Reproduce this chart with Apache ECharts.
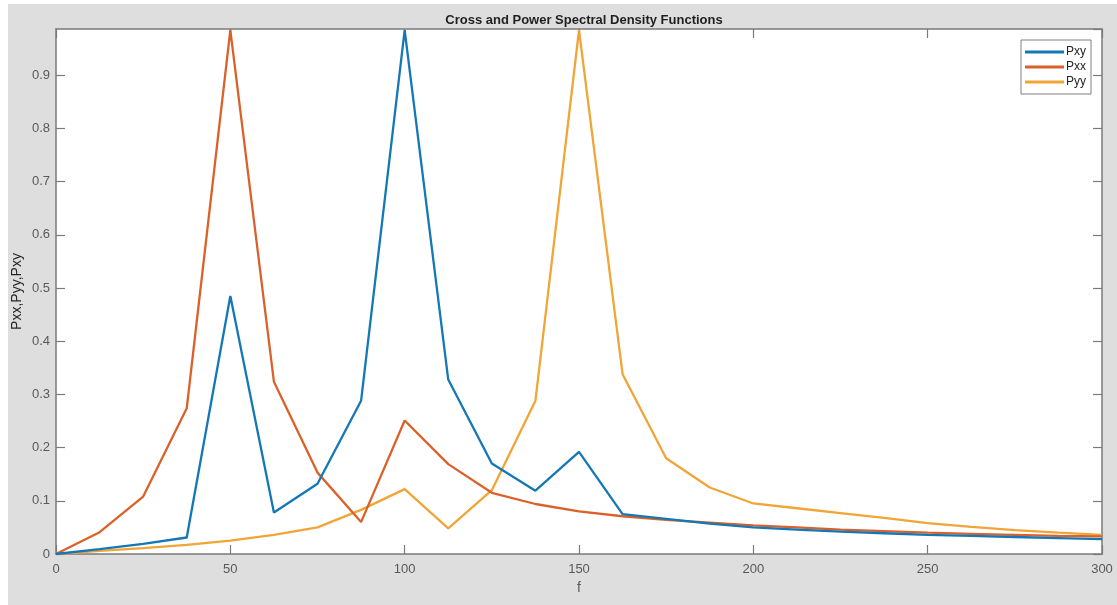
<!DOCTYPE html>
<html>
<head>
<meta charset="utf-8">
<script src="https://cdn.jsdelivr.net/npm/echarts@6/dist/echarts.min.js"></script>
<style>
html,body{margin:0;padding:0;background:#fff;}
#bg{position:absolute;left:8px;top:4px;width:1109px;height:601px;background:#dedede;}
#chart{position:absolute;left:0;top:0;width:1117px;height:605px;}
</style>
</head>
<body>
<div id="bg"></div>
<div id="chart"></div>
<script>
const freq = [0, 12.5, 25, 37.5, 50, 62.5, 75, 87.5, 100, 112.5, 125, 137.5, 150, 162.5, 175, 187.5, 200, 212.5, 225, 237.5, 250, 262.5, 275, 287.5, 300];
const Pxy = [0, 0.009, 0.019, 0.031, 0.485, 0.078, 0.132, 0.288, 0.985, 0.328, 0.170, 0.119, 0.192, 0.075, 0.066, 0.057, 0.050, 0.046, 0.042, 0.039, 0.036, 0.034, 0.032, 0.030, 0.028];
const Pxx = [0, 0.041, 0.108, 0.274, 0.985, 0.324, 0.153, 0.060, 0.251, 0.169, 0.115, 0.094, 0.080, 0.071, 0.064, 0.059, 0.054, 0.050, 0.046, 0.043, 0.040, 0.038, 0.036, 0.034, 0.033];
const Pyy = [0, 0.006, 0.011, 0.017, 0.025, 0.036, 0.050, 0.083, 0.122, 0.048, 0.120, 0.288, 0.985, 0.338, 0.180, 0.125, 0.095, 0.086, 0.077, 0.068, 0.058, 0.051, 0.045, 0.040, 0.036];
const seriesNames = ['Pxy', 'Pxx', 'Pyy'];
const seriesColors = ['#1478B6', '#DA622A', '#F0A536'];
const xTicks = [0, 50, 100, 150, 200, 250, 300];
const yTicks = [0, 0.1, 0.2, 0.3, 0.4, 0.5, 0.6, 0.7, 0.8, 0.9];

const chart = echarts.init(document.getElementById('chart'), null, {renderer: 'canvas'});
const values = [Pxy, Pxx, Pyy];
const font = 'Liberation Sans, Arial, Helvetica, sans-serif';
const axisCol = '#7a7a7a';
const labelCol = '#595959';

function axisCommon(show) {
  return {
    axisLine: {show: true, onZero: false, lineStyle: {color: axisCol, width: 1.5}},
    axisTick: {show: true, inside: true, length: 9, lineStyle: {color: axisCol, width: 1.2}},
    splitLine: {show: false},
    axisLabel: {show: show, color: labelCol, fontSize: 13, fontFamily: font}
  };
}

chart.setOption({
  backgroundColor: 'transparent',
  animation: false,
  title: {
    text: 'Cross and Power Spectral Density Functions',
    left: 579, top: 9, textAlign: 'center',
    textStyle: {fontSize: 13, fontWeight: 'bold', color: '#1f1f1f', fontFamily: font}
  },
  grid: {left: 56, right: 15, top: 29, bottom: 51, show: true, backgroundColor: '#ffffff', borderWidth: 0},
  legend: {
    data: seriesNames,
    orient: 'vertical',
    left: 1021, top: 40,
    padding: [6, 5, 6, 4],
    icon: 'rect',
    itemWidth: 39, itemHeight: 3, itemGap: 3,
    backgroundColor: '#ffffff',
    borderColor: '#808080', borderWidth: 1,
    textStyle: {fontSize: 12, color: '#262626', fontFamily: font, padding: [0, 0, 0, -3]}
  },
  xAxis: [
    Object.assign({type: 'value', min: 0, max: 300, interval: 50, position: 'bottom',
      name: 'f', nameLocation: 'middle', nameGap: 27, nameMoveOverlap: false,
      nameTextStyle: {color: labelCol, fontSize: 14, fontFamily: font}},
      axisCommon(true), {axisLabel: {show: true, color: labelCol, fontSize: 13, fontFamily: font, margin: 9,
        formatter: v => xTicks.includes(v) ? String(v) : ''}}),
    Object.assign({type: 'value', min: 0, max: 300, interval: 50, position: 'top'}, axisCommon(false))
  ],
  yAxis: [
    Object.assign({type: 'value', min: 0, max: 0.987, interval: 0.1, position: 'left',
      name: 'Pxx,Pyy,Pxy', nameLocation: 'middle', nameGap: 32, nameRotate: 90, nameMoveOverlap: false,
      nameTextStyle: {color: '#262626', fontSize: 14, fontFamily: font}},
      axisCommon(true), {axisLabel: {show: true, color: labelCol, fontSize: 13, fontFamily: font, margin: 6,
        showMaxLabel: false,
        formatter: v => {const r = Math.round(v * 10) / 10; return yTicks.includes(r) && Math.abs(r - v) < 1e-6 ? (r === 0 ? '0' : String(r)) : '';}}}),
    Object.assign({type: 'value', min: 0, max: 0.987, interval: 0.1, position: 'right'}, axisCommon(false))
  ],
  series: seriesNames.map((name, i) => ({
    name: name,
    type: 'line',
    xAxisIndex: 0, yAxisIndex: 0,
    data: freq.map((f, j) => [f, values[i][j]]),
    symbol: 'none',
    lineStyle: {color: seriesColors[i], width: 2.3},
    itemStyle: {color: seriesColors[i]},
    z: 3 - i
  }))
});
</script>
</body>
</html>
